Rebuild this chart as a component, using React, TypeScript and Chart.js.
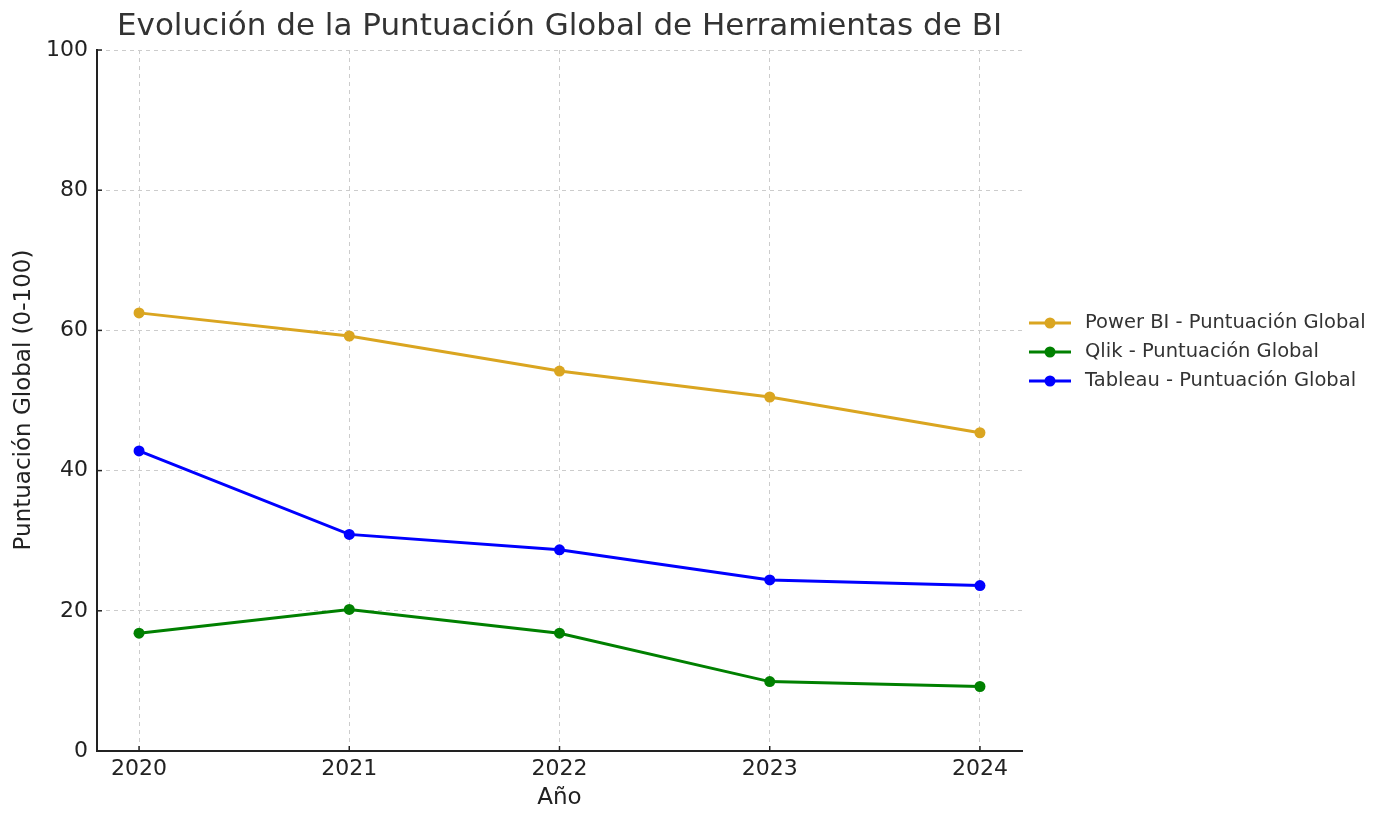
import React, { useEffect, useRef } from "react";
import { Chart, registerables } from "chart.js";

Chart.register(...registerables);

const years = [2020, 2021, 2022, 2023, 2024];
const powerBI = [62.5, 59.2, 54.2, 50.5, 45.4];
const qlik = [16.8, 20.2, 16.8, 9.9, 9.2];
const tableau = [42.8, 30.9, 28.7, 24.4, 23.6];
const seriesNames = [
  "Power BI - Puntuación Global",
  "Qlik - Puntuación Global",
  "Tableau - Puntuación Global",
];
const seriesColors = ["#DAA520", "#008000", "#0000FF"];
const yTicks = [0, 20, 40, 60, 80, 100];

const FONT = "'DejaVu Sans', sans-serif";

const overlay = {
  id: "overlay",
  afterDraw(chart: any) {
    const ctx = chart.ctx;
    const a = chart.chartArea;
    const xs = chart.scales.x;
    const ys = chart.scales.y;
    ctx.save();
    // inner tick marks
    ctx.strokeStyle = "#222";
    ctx.lineWidth = 1.5;
    years.forEach((yr) => {
      const px = xs.getPixelForValue(yr);
      ctx.beginPath();
      ctx.moveTo(px, a.bottom);
      ctx.lineTo(px, a.bottom - 5);
      ctx.stroke();
    });
    yTicks.forEach((v) => {
      const py = ys.getPixelForValue(v);
      ctx.beginPath();
      ctx.moveTo(a.left, py);
      ctx.lineTo(a.left + 5, py);
      ctx.stroke();
    });
    // title
    ctx.fillStyle = "#333";
    ctx.font = `31px ${FONT}`;
    ctx.textAlign = "center";
    ctx.textBaseline = "middle";
    ctx.fillText(
      "Evolución de la Puntuación Global de Herramientas de BI",
      (a.left + a.right) / 2,
      27
    );
    // axis titles
    ctx.fillStyle = "#222";
    ctx.font = `23px ${FONT}`;
    ctx.fillText("Año", (a.left + a.right) / 2, 798);
    ctx.save();
    ctx.translate(24, 400);
    ctx.rotate(-Math.PI / 2);
    ctx.fillText("Puntuación Global (0-100)", 0, 0);
    ctx.restore();
    // legend
    ctx.font = `19.5px ${FONT}`;
    ctx.textAlign = "left";
    const rowsY = [323, 352, 381];
    seriesNames.forEach((name, i) => {
      const y = rowsY[i];
      ctx.strokeStyle = seriesColors[i];
      ctx.lineWidth = 3;
      ctx.beginPath();
      ctx.moveTo(1029, y);
      ctx.lineTo(1071, y);
      ctx.stroke();
      ctx.fillStyle = seriesColors[i];
      ctx.beginPath();
      ctx.arc(1050, y, 5.5, 0, Math.PI * 2);
      ctx.fill();
      ctx.fillStyle = "#333";
      ctx.fillText(name, 1085, y);
    });
    ctx.restore();
  },
};

export default function App() {
  const ref = useRef<HTMLCanvasElement | null>(null);
  useEffect(() => {
    document.body.style.margin = "0";
    const seriesData = [powerBI, qlik, tableau];
    const chart = new Chart(ref.current as HTMLCanvasElement, {
      type: "line",
      data: {
        datasets: seriesData.map((vals, i) => ({
          label: seriesNames[i],
          data: vals.map((v, j) => ({ x: years[j], y: v })),
          borderColor: seriesColors[i],
          backgroundColor: seriesColors[i],
          borderWidth: 3,
          pointRadius: 5.5,
          pointHoverRadius: 5.5,
          pointBorderWidth: 0,
          tension: 0,
        })),
      },
      options: {
        animation: false,
        responsive: false,
        layout: { padding: { top: 50, right: 364, left: 0, bottom: 0 } },
        plugins: { legend: { display: false }, tooltip: { enabled: false } },
        scales: {
          x: {
            type: "linear",
            min: 2019.8,
            max: 2024.2,
            afterBuildTicks: (s: any) => {
              s.ticks = years.map((v) => ({ value: v }));
            },
            afterFit: (s: any) => {
              s.height = 75;
            },
            ticks: {
              font: { family: FONT, size: 22 },
              color: "#222",
              padding: 5,
              callback: (v: any) => String(v),
            },
            grid: {
              color: "#cccccc",
              lineWidth: 1,
              drawTicks: false,
            },
            border: { color: "#222", width: 2, dash: [4, 4] },
          },
          y: {
            min: 0,
            max: 100,
            afterBuildTicks: (s: any) => {
              s.ticks = yTicks.map((v) => ({ value: v }));
            },
            afterFit: (s: any) => {
              s.width = 97;
            },
            ticks: {
              font: { family: FONT, size: 22 },
              color: "#222",
              padding: 9,
            },
            grid: {
              color: "#cccccc",
              lineWidth: 1,
              drawTicks: false,
            },
            border: { color: "#222", width: 2, dash: [4, 4] },
          },
        },
      },
      plugins: [overlay],
    });
    return () => chart.destroy();
  }, []);
  return (
    <div style={{ width: 1386, height: 826 }}>
      <canvas ref={ref} width={1386} height={826} />
    </div>
  );
}
